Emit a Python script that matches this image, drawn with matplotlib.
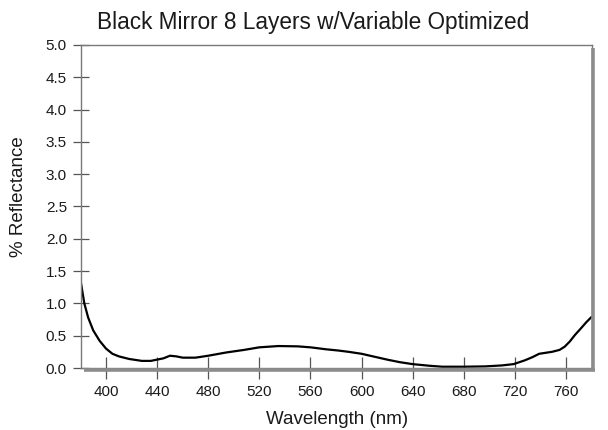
import matplotlib
matplotlib.use("Agg")
import matplotlib.pyplot as plt
from matplotlib.lines import Line2D

plt.rcParams['font.family'] = ['Liberation Sans', 'DejaVu Sans']

# Reflectance spectrum of the optimized 8-layer black mirror
wavelength_nm = [380, 383, 386, 390, 395, 400, 405, 410, 418, 428, 435, 440, 445,
                 450, 455, 460, 470, 480, 494, 508, 520, 535, 550, 560, 572, 582,
                 590, 600, 610, 620, 630, 640, 653, 663, 680, 697, 710, 719, 728,
                 734, 739, 749, 755, 759, 763, 767, 772, 776, 780]
reflectance_pct = [1.36, 1.00, 0.78, 0.58, 0.42, 0.30, 0.22, 0.18, 0.14, 0.11, 0.11, 0.13, 0.15,
                   0.19, 0.18, 0.16, 0.16, 0.19, 0.24, 0.28, 0.32, 0.34, 0.335, 0.32, 0.29, 0.27,
                   0.25, 0.22, 0.175, 0.13, 0.09, 0.06, 0.035, 0.02, 0.02, 0.025, 0.04, 0.06, 0.12,
                   0.17, 0.22, 0.25, 0.28, 0.33, 0.41, 0.51, 0.62, 0.71, 0.79]

x_ticks = [400, 440, 480, 520, 560, 600, 640, 680, 720, 760]
y_ticks = [0.0, 0.5, 1.0, 1.5, 2.0, 2.5, 3.0, 3.5, 4.0, 4.5, 5.0]

W, H = 608, 430
fig = plt.figure(figsize=(W / 100, H / 100), dpi=100)
left, right, top, bottom = 80.5, 591.5, 45, 368
ax = fig.add_axes([left / W, 1 - bottom / H, (right - left) / W, (bottom - top) / H])

ax.plot(wavelength_nm, reflectance_pct, color='black', linewidth=1.6,
        solid_capstyle='round', solid_joinstyle='round')

ax.set_xlim(380, 780)
ax.set_ylim(0, 5.0)
ax.set_xticks(x_ticks)
ax.set_yticks(y_ticks)
ax.set_yticklabels([f"{v:.1f}" for v in y_ticks])

for spine in ax.spines.values():
    spine.set_color('#7a7a7a')
    spine.set_linewidth(1.0)

ax.tick_params(axis='both', direction='inout', colors='#555555', labelcolor='#1a1a1a',
               labelsize=11)
ax.tick_params(axis='x', length=16.5, width=0.9, pad=4)
ax.tick_params(axis='y', length=11.5, width=0.9, pad=4)

# Drop shadow along the right and bottom edges of the frame
shadow_kw = dict(transform=fig.transFigure, color='#8c8c8c', linewidth=2.6,
                 solid_capstyle='butt', clip_on=False)
fig.add_artist(Line2D([84 / W, 594.5 / W], [1 - 369.5 / H, 1 - 369.5 / H], **shadow_kw))
fig.add_artist(Line2D([593 / W, 593 / W], [1 - 48 / H, 1 - 371 / H], **shadow_kw))

ax_w, ax_h = right - left, bottom - top
ax.set_title("Black Mirror 8 Layers w/Variable Optimized", fontsize=16.3, pad=0,
             color='#1a1a1a', x=(313 - left) / ax_w, y=(bottom - 29) / ax_h, va='baseline')
ax.set_xlabel("Wavelength (nm)", fontsize=13.5, color='#1a1a1a', va='center')
ax.xaxis.set_label_coords((337.5 - left) / ax_w, (bottom - 419.5) / ax_h)
ax.set_ylabel("% Reflectance", fontsize=13.5, color='#1a1a1a', va='center')
ax.yaxis.set_label_coords((18.5 - left) / ax_w, (bottom - 197) / ax_h)

fig.savefig("out.png", dpi=100)
